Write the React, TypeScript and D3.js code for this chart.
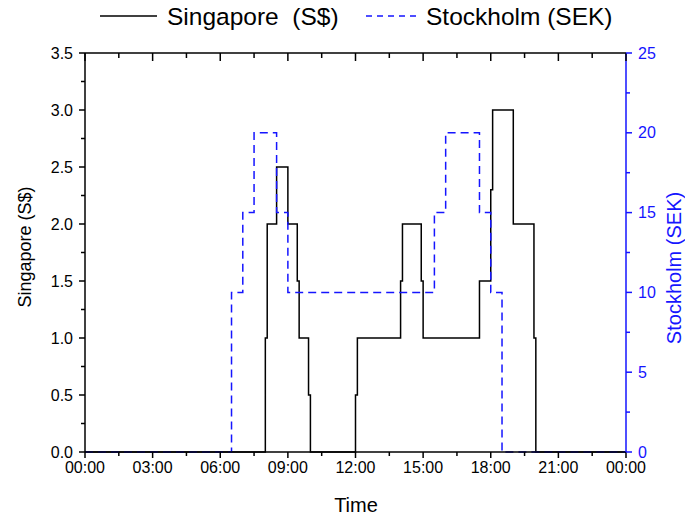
import React from "react";
import * as d3 from "d3";

// ---- data ----
const sgTimes = ["00:00", "08:00", "08:05", "08:30", "09:00", "09:25", "09:30", "09:55", "10:00", "12:00", "12:05", "14:00", "14:05", "14:55", "15:00", "17:30", "18:00", "18:05", "19:00", "19:55", "20:00", "24:00"];
const sgValues = [0, 1.0, 2.0, 2.5, 2.0, 1.5, 1.0, 0.5, 0, 0.5, 1.0, 1.5, 2.0, 1.5, 1.0, 1.5, 2.3, 3.0, 2.0, 1.0, 0, 0];

const stTimes = ["00:00", "06:30", "07:00", "07:30", "08:30", "09:00", "15:30", "16:00", "17:30", "18:00", "18:30", "24:00"];
const stValues = [0, 10, 15, 20, 15, 10, 15, 20, 15, 10, 0, 0];

const xTickLabels = ["00:00", "03:00", "06:00", "09:00", "12:00", "15:00", "18:00", "21:00", "00:00"];
const leftTicks = [0, 0.5, 1.0, 1.5, 2.0, 2.5, 3.0, 3.5];
const rightTicks = [0, 5, 10, 15, 20, 25];

const FONT = "'Liberation Sans', Arial, sans-serif";
const W = 685, H = 518;
const L = 85, R = 626, T = 53, B = 452;
const BLUE = "#1515ff";

const toH = (s: string) => {
  const [h, m] = s.split(":").map(Number);
  return h + m / 60;
};

export default function App() {
  const x = d3.scaleLinear().domain([0, 24]).range([L, R]);
  const yL = d3.scaleLinear().domain([0, 3.5]).range([B, T]);
  const yR = d3.scaleLinear().domain([0, 25]).range([B, T]);

  const sgData = sgTimes.map((t, i) => [toH(t), sgValues[i]] as [number, number]);
  const stData = stTimes.map((t, i) => [toH(t), stValues[i]] as [number, number]);

  const sgLine = d3.line<[number, number]>().x(d => x(d[0])).y(d => yL(d[1])).curve(d3.curveStepAfter);
  const stLine = d3.line<[number, number]>().x(d => x(d[0])).y(d => yR(d[1])).curve(d3.curveStepAfter);

  const xMinor = d3.range(0, 24.01, 1.5);
  const leftMinor = d3.range(0, 3.51, 0.25);
  const rightMinor = d3.range(0, 25.01, 2.5);

  return (
    <svg width={W} height={H} style={{ position: "absolute", left: 0, top: 0, background: "#fff" }} fontFamily={FONT}>
      <rect x={0} y={0} width={W} height={H} fill="#fff" />

      {/* data lines */}
      <path d={sgLine(sgData) || ""} fill="none" stroke="#000" strokeWidth={1.5} />
      <path d={stLine(stData) || ""} fill="none" stroke={BLUE} strokeWidth={1.5} strokeDasharray="8,5" />

      {/* frame */}
      <line x1={L} x2={R} y1={T} y2={T} stroke="#000" strokeWidth={1.5} />
      <line x1={L} x2={R} y1={B} y2={B} stroke="#000" strokeWidth={1.5} />
      <line x1={L} x2={L} y1={T} y2={B} stroke="#000" strokeWidth={1.5} />
      <line x1={R} x2={R} y1={T} y2={B} stroke={BLUE} strokeWidth={1.5} />

      {/* x ticks bottom and top */}
      {xMinor.map((h, i) => {
        const major = i % 2 === 0;
        return (
          <g key={"xt" + i}>
            <line x1={x(h)} x2={x(h)} y1={B} y2={B + (major ? 6 : 4)} stroke="#000" strokeWidth={1.5} />
            <line x1={x(h)} x2={x(h)} y1={T} y2={T + (major ? 8 : 5)} stroke="#000" strokeWidth={1.5} />
          </g>
        );
      })}
      {xTickLabels.map((lab, i) => (
        <text key={"xl" + i} x={x(i * 3)} y={473} fontSize={16} textAnchor="middle" fill="#000">{lab}</text>
      ))}

      {/* left ticks */}
      {leftMinor.map((v, i) => (
        <line key={"lt" + i} x1={L} x2={L - (i % 2 === 0 ? 6 : 4)} y1={yL(v)} y2={yL(v)} stroke="#000" strokeWidth={1.5} />
      ))}
      {leftTicks.map((v, i) => (
        <text key={"ll" + i} x={L - 12} y={yL(v)} dy="0.35em" fontSize={16} textAnchor="end" fill="#000">{v.toFixed(1)}</text>
      ))}

      {/* right ticks */}
      {rightMinor.map((v, i) => (
        <line key={"rt" + i} x1={R} x2={R + (i % 2 === 0 ? 6 : 4)} y1={yR(v)} y2={yR(v)} stroke={BLUE} strokeWidth={1.5} />
      ))}
      {rightTicks.map((v, i) => (
        <text key={"rl" + i} x={R + 12} y={yR(v)} dy="0.35em" fontSize={16} textAnchor="start" fill={BLUE}>{v}</text>
      ))}

      {/* axis titles */}
      <text x={356} y={512} fontSize={20} textAnchor="middle" fill="#000">Time</text>
      <text transform="translate(31,247) rotate(-90)" fontSize={18} textAnchor="middle" fill="#000">Singapore (S$)</text>
      <text transform="translate(681,268) rotate(-90)" fontSize={20} textAnchor="middle" fill={BLUE}>Stockholm (SEK)</text>

      {/* legend */}
      <line x1={100} x2={157} y1={16} y2={16} stroke="#000" strokeWidth={1.5} />
      <text x={167} y={25} fontSize={24.5} fill="#000" style={{ whiteSpace: "pre" }} xmlSpace="preserve">Singapore  (S$)</text>
      <line x1={366} x2={418} y1={16} y2={16} stroke={BLUE} strokeWidth={1.5} strokeDasharray="6,5" />
      <text x={426} y={25} fontSize={24.5} fill="#000">Stockholm (SEK)</text>
    </svg>
  );
}
